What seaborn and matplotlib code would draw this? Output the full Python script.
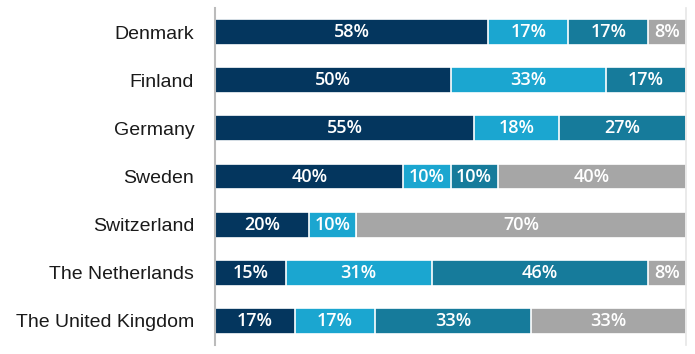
import matplotlib
matplotlib.use("Agg")
import matplotlib.pyplot as plt
import seaborn as sns
import numpy as np
import pandas as pd

countries = ["Denmark", "Finland", "Germany", "Sweden", "Switzerland",
             "The Netherlands", "The United Kingdom"]
seg1 = [58, 50, 55, 40, 20, 15, 17]
seg2 = [17, 33, 18, 10, 10, 31, 17]
seg3 = [17, 17, 27, 10, 0, 46, 33]
seg4 = [8, 0, 0, 40, 70, 8, 33]
series = [seg1, seg2, seg3, seg4]
colors = ["#04365E", "#1BA6D0", "#167B9B", "#A6A6A6"]

sns.set_theme(style="white")
plt.rcParams["font.family"] = ["Liberation Sans", "DejaVu Sans"]

fig = plt.figure(figsize=(6.95, 3.54), dpi=100)
ax = fig.add_axes([215/695, 9/354, 471/695, 337/354])

cum = np.cumsum(np.array(series), axis=0)
# draw from the full total down so that earlier segments overlay later ones
for i in range(len(series) - 1, -1, -1):
    df = pd.DataFrame({"country": countries, "value": cum[i]})
    sns.barplot(data=df, x="value", y="country", orient="h", color=colors[i],
                saturation=1, width=0.54, edgecolor="white", linewidth=1.2, ax=ax)

# labels
for i, s in enumerate(series):
    start = cum[i] - np.array(s)
    for j, v in enumerate(s):
        if v <= 0:
            continue
        ax.text(start[j] + v / 2, j, f"{v}%", ha="center", va="center",
                color="white", fontsize=13, fontweight="semibold",
                family=["Open Sans", "DejaVu Sans"])

ax.set_xlim(0, 100)
ax.set_ylim(6.5, -0.5)
ax.set_xlabel("")
ax.set_ylabel("")
ax.set_xticks([])
ax.tick_params(axis="y", length=0, pad=15, labelsize=14, labelcolor="#1a1a1a")
for side in ["top", "bottom"]:
    ax.spines[side].set_visible(False)
ax.spines["left"].set_color("#BBBBBB")
ax.spines["left"].set_linewidth(1.5)
ax.spines["right"].set_color("#E6E6E6")
ax.spines["right"].set_linewidth(1.2)

fig.savefig("out.png", dpi=100)
